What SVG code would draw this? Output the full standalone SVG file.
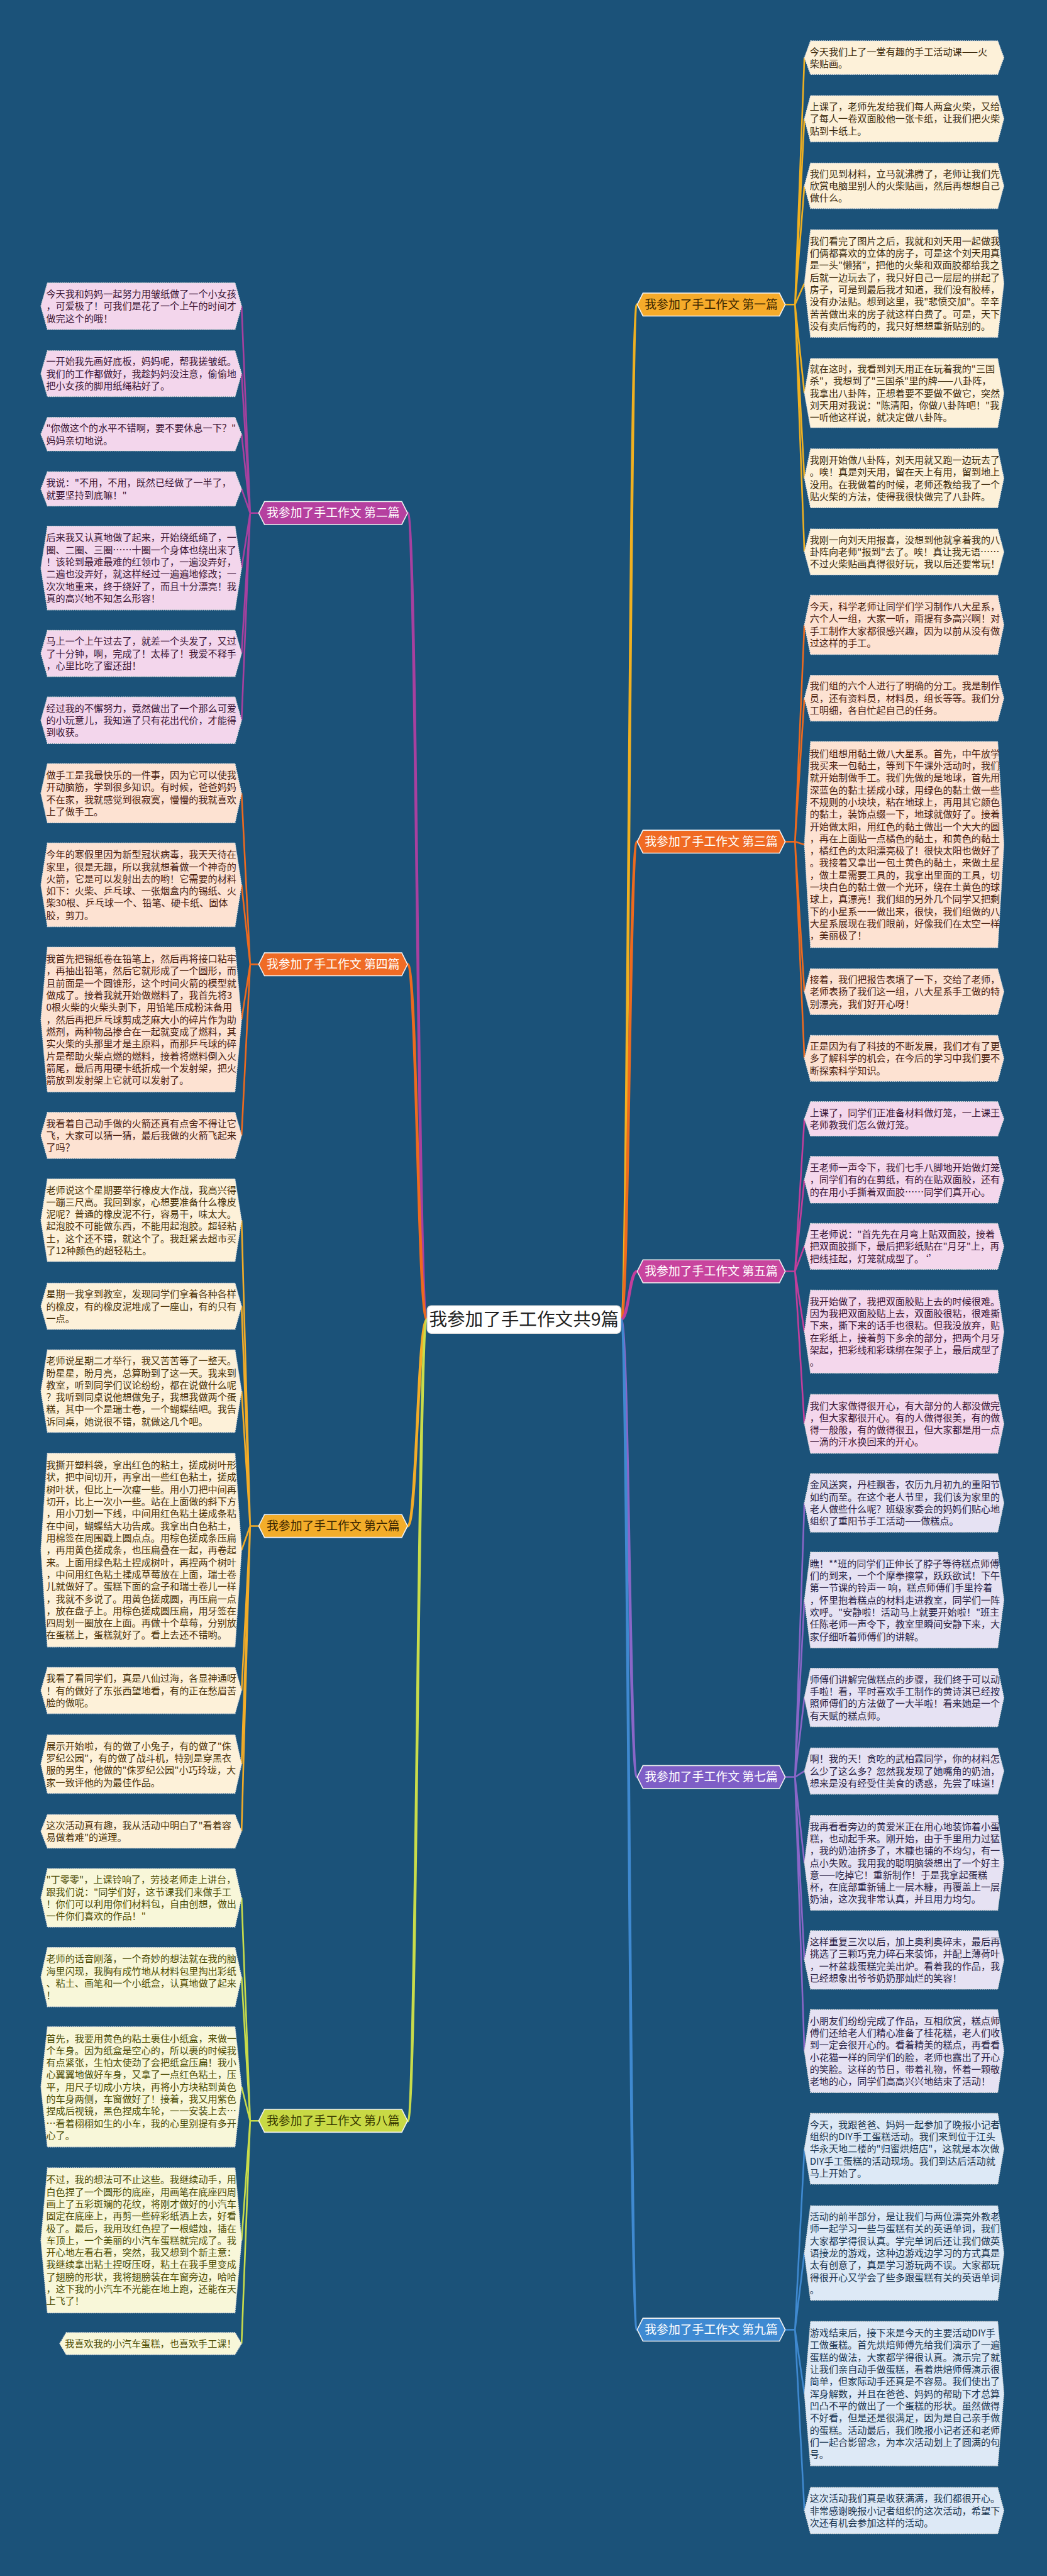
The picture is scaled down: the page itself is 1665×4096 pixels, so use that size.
<svg xmlns="http://www.w3.org/2000/svg" width="1665" height="4096" viewBox="0 0 1665 4096">
<style>
text{font-family:"Noto Sans CJK SC","Noto Sans",sans-serif}
.t{font-size:23.3px}
.leaf{stroke:#e0e0e0;stroke-width:2;stroke-dasharray:3 2}
.bn{stroke:#f2f2f2;stroke-width:2.5}
.bt{font-size:29px;text-anchor:middle}
.c{fill:none;stroke-width:4}
.cc{fill:none;stroke-width:7}
.b1 .leaf{fill:#fdf1d9}.b1 .t{fill:#3c2a0c}
.b2 .leaf{fill:#f3d6ec}.b2 .t{fill:#3a1534}
.b3 .leaf{fill:#fde2d2}.b3 .t{fill:#4a2010}
.b4 .leaf{fill:#fde2d2}.b4 .t{fill:#4a2010}
.b5 .leaf{fill:#f4d7ec}.b5 .t{fill:#3a1534}
.b6 .leaf{fill:#fdf1d9}.b6 .t{fill:#4a3208}
.b7 .leaf{fill:#e6e2f3}.b7 .t{fill:#2a2245}
.b8 .leaf{fill:#f8f7d9}.b8 .t{fill:#4d4d05}
.b9 .leaf{fill:#dde9f6}.b9 .t{fill:#1a3550}
</style>
<rect width="1665" height="4096" fill="#1b5279"/>
<g transform="scale(0.65)">
<g id="connectors">
<g stroke="#f0b020" class="c"><path class="c" d="M1921,745H1945M1945,745L1968,141M1945,745L1968,290.5M1945,745L1968,454.5M1945,745L1968,693.5M1945,745L1968,961.5M1945,745L1968,1170M1945,745L1968,1350"/></g>
<g stroke="#ee6a1e"><path class="c" d="M1921,2059H1945M1945,2059L1968,1528.5M1945,2059L1968,1708M1945,2059L1968,2066M1945,2059L1968,2426M1945,2059L1968,2589"/></g>
<g stroke="#c33e9c"><path class="c" d="M1921,3110H1945M1945,3110L1968,2737M1945,3110L1968,2886M1945,3110L1968,3049M1945,3110L1968,3257.5M1945,3110L1968,3483"/></g>
<g stroke="#8a66c8"><path class="c" d="M1921,4347H1945M1945,4347L1968,3676.5M1945,4347L1968,3914M1945,4347L1968,4152.5M1945,4347L1968,4332.5M1945,4347L1968,4557M1945,4347L1968,4794.5M1945,4347L1968,5017.5"/></g>
<g stroke="#3f89d0"><path class="c" d="M1921,5699H1945M1945,5699L1968,5256.5M1945,5699L1968,5511.5M1945,5699L1968,5855.5M1945,5699L1968,6141.5"/></g>
<g stroke="#a8409f"><path class="c" d="M633,1255H612M612,1255L591,749M612,1255L591,914M612,1255L591,1062M612,1255L591,1196M612,1255L591,1389.5M612,1255L591,1598.5M612,1255L591,1762"/></g>
<g stroke="#ee6a1e"><path class="c" d="M633,2359H612M612,2359L591,1940.5M612,2359L591,2164.5M612,2359L591,2494M612,2359L591,2777.5"/></g>
<g stroke="#f3ac27"><path class="c" d="M633,3733H612M612,3733L591,2985M612,3733L591,3195.5M612,3733L591,3403M612,3733L591,3792M612,3733L591,4135.5M612,3733L591,4315.5M612,3733L591,4480"/></g>
<g stroke="#c9dc4a"><path class="c" d="M633,5188H612M612,5188L591,4642.5M612,5188L591,4836.5M612,5188L591,5105M612,5188L591,5480.5M612,5188L591,5733"/></g>
<path class="cc" stroke="#f0b020" d="M1519,3228C1539,3228 1539,745 1559,745"/>
<path class="cc" stroke="#ee6a1e" d="M1519,3228C1539,3228 1539,2059 1559,2059"/>
<path class="cc" stroke="#c33e9c" d="M1519,3228C1539,3228 1539,3110 1559,3110"/>
<path class="cc" stroke="#8a66c8" d="M1519,3228C1539,3228 1539,4347 1559,4347"/>
<path class="cc" stroke="#3f89d0" d="M1519,3228C1539,3228 1539,5699 1559,5699"/>
<path class="cc" stroke="#a8409f" d="M1045,3228C1021,3228 1021,1255 997,1255"/>
<path class="cc" stroke="#ee6a1e" d="M1045,3228C1021,3228 1021,2359 997,2359"/>
<path class="cc" stroke="#f3ac27" d="M1045,3228C1021,3228 1021,3733 997,3733"/>
<path class="cc" stroke="#c9dc4a" d="M1045,3228C1021,3228 1021,5188 997,5188"/>
</g>

<g id="center"><rect x="1045" y="3194" width="474" height="68" rx="10" fill="#ffffff" stroke="#d9d9d9" stroke-width="2"/><text x="1282" y="3243" font-size="44" text-anchor="middle" fill="#222">我参加了手工作文共9篇</text></g>

<g id="B1"><path class="bn" fill="#f6ab2a" d="M1573,717H1907L1921,745L1907,773H1573L1559,745Z"/><text class="bt" x="1740" y="755" fill="#3b2500">我参加了手工作文 第一篇</text></g>
<g id="B3"><path class="bn" fill="#f06a23" d="M1573,2031H1907L1921,2059L1907,2087H1573L1559,2059Z"/><text class="bt" x="1740" y="2069" fill="#ffffff">我参加了手工作文 第三篇</text></g>
<g id="B5"><path class="bn" fill="#c8449e" d="M1573,3082H1907L1921,3110L1907,3138H1573L1559,3110Z"/><text class="bt" x="1740" y="3120" fill="#ffffff">我参加了手工作文 第五篇</text></g>
<g id="B7"><path class="bn" fill="#7e5ec6" d="M1573,4319H1907L1921,4347L1907,4375H1573L1559,4347Z"/><text class="bt" x="1740" y="4357" fill="#ffffff">我参加了手工作文 第七篇</text></g>
<g id="B9"><path class="bn" fill="#3f8ad2" d="M1573,5671H1907L1921,5699L1907,5727H1573L1559,5699Z"/><text class="bt" x="1740" y="5709" fill="#ffffff">我参加了手工作文 第九篇</text></g>
<g id="B2"><path class="bn" fill="#b5409f" d="M647,1227H983L997,1255L983,1283H647L633,1255Z"/><text class="bt" x="815" y="1265" fill="#ffffff">我参加了手工作文 第二篇</text></g>
<g id="B4"><path class="bn" fill="#ef6b25" d="M647,2331H983L997,2359L983,2387H647L633,2359Z"/><text class="bt" x="815" y="2369" fill="#ffffff">我参加了手工作文 第四篇</text></g>
<g id="B6"><path class="bn" fill="#f3ad2a" d="M647,3705H983L997,3733L983,3761H647L633,3733Z"/><text class="bt" x="815" y="3743" fill="#3b2500">我参加了手工作文 第六篇</text></g>
<g id="B8"><path class="bn" fill="#c8d945" d="M647,5160H983L997,5188L983,5216H647L633,5188Z"/><text class="bt" x="815" y="5198" fill="#3a3a00">我参加了手工作文 第八篇</text></g>

<g class="b2">
<g id="L1"><path class="leaf" d="M116,692H575L591,749L575,806H116L100,749Z"/><text class="t"><tspan x="113" y="727.8">今天我和妈妈一起努力用皱纸做了一个小女孩</tspan><tspan x="113" y="757.5">，可爱极了！可我们是花了一个上午的时间才</tspan><tspan x="113" y="787.2">做完这个的哦！</tspan></text></g>
<g id="L2"><path class="leaf" d="M116,858H575L591,914L575,970H116L100,914Z"/><text class="t"><tspan x="113" y="892.8">一开始我先画好底板，妈妈呢，帮我搓皱纸。</tspan><tspan x="113" y="922.5">我们的工作都做好，我趁妈妈没注意，偷偷地</tspan><tspan x="113" y="952.2">把小女孩的脚用纸绳粘好了。</tspan></text></g>
<g id="L3"><path class="leaf" d="M116,1021H575L591,1062L575,1103H116L100,1062Z"/><text class="t"><tspan x="113" y="1055.7">"你做这个的水平不错啊，要不要休息一下？"</tspan><tspan x="113" y="1085.4">妈妈亲切地说。</tspan></text></g>
<g id="L4"><path class="leaf" d="M116,1154H575L591,1196L575,1238H116L100,1196Z"/><text class="t"><tspan x="113" y="1189.7">我说："不用，不用，既然已经做了一半了，</tspan><tspan x="113" y="1219.4">就要坚持到底嘛！"</tspan></text></g>
<g id="L5"><path class="leaf" d="M116,1287H575L591,1389.5L575,1492H116L100,1389.5Z"/><text class="t"><tspan x="113" y="1323.8">后来我又认真地做了起来，开始绕纸绳了，一</tspan><tspan x="113" y="1353.5">圈、二圈、三圈……十圈一个身体也绕出来了</tspan><tspan x="113" y="1383.2">！该轮到最难最难的红领巾了，一遍没弄好，</tspan><tspan x="113" y="1412.9">二遍也没弄好，就这样经过一遍遍地修改；一</tspan><tspan x="113" y="1442.6">次次地重来，终于绕好了，而且十分漂亮！我</tspan><tspan x="113" y="1472.3">真的高兴地不知怎么形容！</tspan></text></g>
<g id="L6"><path class="leaf" d="M116,1542H575L591,1598.5L575,1655H116L100,1598.5Z"/><text class="t"><tspan x="113" y="1577.3">马上一个上午过去了，就差一个头发了，又过</tspan><tspan x="113" y="1607">了十分钟，啊，完成了！太棒了！我爱不释手</tspan><tspan x="113" y="1636.7">，心里比吃了蜜还甜！</tspan></text></g>
<g id="L7"><path class="leaf" d="M116,1705H575L591,1762L575,1819H116L100,1762Z"/><text class="t"><tspan x="113" y="1740.8">经过我的不懈努力，竟然做出了一个那么可爱</tspan><tspan x="113" y="1770.5">的小玩意儿，我知道了只有花出代价，才能得</tspan><tspan x="113" y="1800.2">到收获。</tspan></text></g>
</g>

<g class="b4">
<g id="L8"><path class="leaf" d="M116,1868H575L591,1940.5L575,2013H116L100,1940.5Z"/><text class="t"><tspan x="113" y="1904.5">做手工是我最快乐的一件事，因为它可以使我</tspan><tspan x="113" y="1934.2">开动脑筋，学到很多知识。有时候，爸爸妈妈</tspan><tspan x="113" y="1963.9">不在家，我就感觉到很寂寞，慢慢的我就喜欢</tspan><tspan x="113" y="1993.6">上了做手工。</tspan></text></g>
<g id="L9"><path class="leaf" d="M116,2062H575L591,2164.5L575,2267H116L100,2164.5Z"/><text class="t"><tspan x="113" y="2098.8">今年的寒假里因为新型冠状病毒，我天天待在</tspan><tspan x="113" y="2128.5">家里，很是无趣，所以我就想着做一个神奇的</tspan><tspan x="113" y="2158.2">火箭，它是可以发射出去的哟！它需要的材料</tspan><tspan x="113" y="2187.9">如下：火柴、乒乓球、一张烟盒内的锡纸、火</tspan><tspan x="113" y="2217.6">柴30根、乒乓球一个、铅笔、硬卡纸、固体</tspan><tspan x="113" y="2247.3">胶，剪刀。</tspan></text></g>
<g id="L10"><path class="leaf" d="M116,2317H575L591,2494L575,2671H116L100,2494Z"/><text class="t"><tspan x="113" y="2354">我首先把锡纸卷在铅笔上，然后再将接口粘牢</tspan><tspan x="113" y="2383.7">，再抽出铅笔，然后它就形成了一个圆形，而</tspan><tspan x="113" y="2413.4">且前面是一个圆锥形，这个时间火箭的模型就</tspan><tspan x="113" y="2443.1">做成了。接着我就开始做燃料了，我首先将3</tspan><tspan x="113" y="2472.8">0根火柴的火柴头剥下，用铅笔压成粉沫备用</tspan><tspan x="113" y="2502.5">，然后再把乒乓球剪成芝麻大小的碎片作为助</tspan><tspan x="113" y="2532.2">燃剂，两种物品掺合在一起就变成了燃料，其</tspan><tspan x="113" y="2561.9">实火柴的头那里才是主原料，而那乒乓球的碎</tspan><tspan x="113" y="2591.6">片是帮助火柴点燃的燃料，接着将燃料倒入火</tspan><tspan x="113" y="2621.3">箭尾，最后再用硬卡纸折成一个发射架，把火</tspan><tspan x="113" y="2651">箭放到发射架上它就可以发射了。</tspan></text></g>
<g id="L11"><path class="leaf" d="M116,2721H575L591,2777.5L575,2834H116L100,2777.5Z"/><text class="t"><tspan x="113" y="2756.3">我看着自己动手做的火箭还真有点舍不得让它</tspan><tspan x="113" y="2786">飞，大家可以猜一猜，最后我做的火箭飞起来</tspan><tspan x="113" y="2815.7">了吗？</tspan></text></g>
</g>

<g class="b6">
<g id="L12"><path class="leaf" d="M116,2884H575L591,2985L575,3086H116L100,2985Z"/><text class="t"><tspan x="113" y="2919.3">老师说这个星期要举行橡皮大作战，我高兴得</tspan><tspan x="113" y="2949">一蹦三尺高。我回到家，心想要准备什么橡皮</tspan><tspan x="113" y="2978.7">泥呢？普通的橡皮泥不行，容易干，味太大。</tspan><tspan x="113" y="3008.4">起泡胶不可能做东西，不能用起泡胶。超轻粘</tspan><tspan x="113" y="3038.1">土，这个还不错，就这个了。我赶紧去超市买</tspan><tspan x="113" y="3067.8">了12种颜色的超轻粘土。</tspan></text></g>
<g id="L13"><path class="leaf" d="M116,3139H575L591,3195.5L575,3252H116L100,3195.5Z"/><text class="t"><tspan x="113" y="3174.3">星期一我拿到教室，发现同学们拿着各种各样</tspan><tspan x="113" y="3204">的橡皮，有的橡皮泥堆成了一座山，有的只有</tspan><tspan x="113" y="3233.7">一点。</tspan></text></g>
<g id="L14"><path class="leaf" d="M116,3302H575L591,3403L575,3504H116L100,3403Z"/><text class="t"><tspan x="113" y="3337.3">老师说星期二才举行，我又苦苦等了一整天。</tspan><tspan x="113" y="3367">盼星星，盼月亮，总算盼到了这一天。我来到</tspan><tspan x="113" y="3396.7">教室，听到同学们议论纷纷，都在说做什么呢</tspan><tspan x="113" y="3426.4">？我听到同桌说他想做兔子，我想我做两个蛋</tspan><tspan x="113" y="3456.1">糕，其中一个是瑞士卷，一个蝴蝶结吧。我告</tspan><tspan x="113" y="3485.8">诉同桌，她说很不错，就做这几个吧。</tspan></text></g>
<g id="L15"><path class="leaf" d="M116,3555H575L591,3792L575,4029H116L100,3792Z"/><text class="t"><tspan x="113" y="3592.6">我撕开塑料袋，拿出红色的粘土，搓成树叶形</tspan><tspan x="113" y="3622.3">状，把中间切开，再拿出一些红色粘土，搓成</tspan><tspan x="113" y="3652">树叶状，但比上一次瘦一些。用小刀把中间再</tspan><tspan x="113" y="3681.7">切开，比上一次小一些。站在上面做的斜下方</tspan><tspan x="113" y="3711.4">，用小刀划一下线，中间用红色粘土搓成条粘</tspan><tspan x="113" y="3741.1">在中间，蝴蝶结大功告成。我拿出白色粘土，</tspan><tspan x="113" y="3770.8">用棉签在周围戳上圆点点。用棕色搓成条压扁</tspan><tspan x="113" y="3800.5">，再用黄色搓成条，也压扁叠在一起，再卷起</tspan><tspan x="113" y="3830.2">来。上面用绿色粘土捏成树叶，再捏两个树叶</tspan><tspan x="113" y="3859.9">，中间用红色粘土揉成草莓放在上面，瑞士卷</tspan><tspan x="113" y="3889.6">儿就做好了。蛋糕下面的盒子和瑞士卷儿一样</tspan><tspan x="113" y="3919.3">，我就不多说了。用黄色搓成圆，再压扁一点</tspan><tspan x="113" y="3949">，放在盘子上。用棕色搓成圆压扁，用牙签在</tspan><tspan x="113" y="3978.7">四周划一圈放在上面。再做十个草莓，分别放</tspan><tspan x="113" y="4008.4">在蛋糕上，蛋糕就好了。看上去还不错哟。</tspan></text></g>
<g id="L16"><path class="leaf" d="M116,4079H575L591,4135.5L575,4192H116L100,4135.5Z"/><text class="t"><tspan x="113" y="4114.3">我看了看同学们，真是八仙过海，各显神通呀</tspan><tspan x="113" y="4144">！有的做好了东张西望地看，有的正在愁眉苦</tspan><tspan x="113" y="4173.7">脸的做呢。</tspan></text></g>
<g id="L17"><path class="leaf" d="M116,4244H575L591,4315.5L575,4387H116L100,4315.5Z"/><text class="t"><tspan x="113" y="4279.5">展示开始啦，有的做了小兔子，有的做了"侏</tspan><tspan x="113" y="4309.2">罗纪公园"，有的做了战斗机，特别是穿黑衣</tspan><tspan x="113" y="4338.9">服的男生，他做的"侏罗纪公园"小巧玲珑，大</tspan><tspan x="113" y="4368.6">家一致评他的为最佳作品。</tspan></text></g>
<g id="L18"><path class="leaf" d="M116,4439H575L591,4480L575,4521H116L100,4480Z"/><text class="t"><tspan x="113" y="4473.7">这次活动真有趣，我从活动中明白了"看着容</tspan><tspan x="113" y="4503.4">易做着难"的道理。</tspan></text></g>
</g>

<g class="b8">
<g id="L19"><path class="leaf" d="M116,4571H575L591,4642.5L575,4714H116L100,4642.5Z"/><text class="t"><tspan x="113" y="4606.5">"丁零零"，上课铃响了，劳技老师走上讲台，</tspan><tspan x="113" y="4636.2">跟我们说："同学们好，这节课我们来做手工</tspan><tspan x="113" y="4665.9">！你们可以利用你们材料包，自由创想，做出</tspan><tspan x="113" y="4695.6">一件你们喜欢的作品！"</tspan></text></g>
<g id="L20"><path class="leaf" d="M116,4764H575L591,4836.5L575,4909H116L100,4836.5Z"/><text class="t"><tspan x="113" y="4800.5">老师的话音刚落，一个奇妙的想法就在我的脑</tspan><tspan x="113" y="4830.2">海里闪现，我胸有成竹地从材料包里掏出彩纸</tspan><tspan x="113" y="4859.9">、粘土、画笔和一个小纸盒，认真地做了起来</tspan><tspan x="113" y="4889.6">！</tspan></text></g>
<g id="L21"><path class="leaf" d="M116,4958H575L591,5105L575,5252H116L100,5105Z"/><text class="t"><tspan x="113" y="4994.7">首先，我要用黄色的粘土裹住小纸盒，来做一</tspan><tspan x="113" y="5024.4">个车身。因为纸盒是空心的，所以裹的时候我</tspan><tspan x="113" y="5054.1">有点紧张，生怕太使劲了会把纸盒压扁！我小</tspan><tspan x="113" y="5083.8">心翼翼地做好车身，又拿了一点红色粘土，压</tspan><tspan x="113" y="5113.5">平，用尺子切成小方块，再将小方块粘到黄色</tspan><tspan x="113" y="5143.2">的车身两侧，车窗做好了！接着，我又用紫色</tspan><tspan x="113" y="5172.9">捏成后视镜，黑色捏成车轮，一一安装上去…</tspan><tspan x="113" y="5202.6">…看着栩栩如生的小车，我的心里别提有多开</tspan><tspan x="113" y="5232.3">心了。</tspan></text></g>
<g id="L22"><path class="leaf" d="M116,5303H575L591,5480.5L575,5658H116L100,5480.5Z"/><text class="t"><tspan x="113" y="5340.5">不过，我的想法可不止这些。我继续动手，用</tspan><tspan x="113" y="5370.2">白色捏了一个圆形的底座，用画笔在底座四周</tspan><tspan x="113" y="5399.9">画上了五彩斑斓的花纹，将刚才做好的小汽车</tspan><tspan x="113" y="5429.6">固定在底座上，再剪一些碎彩纸洒上去，好看</tspan><tspan x="113" y="5459.3">极了。最后，我用玫红色捏了一根蜡烛，插在</tspan><tspan x="113" y="5489">车顶上，一个美丽的小汽车蛋糕就完成了。我</tspan><tspan x="113" y="5518.7">开心地左看右看，突然，我又想到个新主意：</tspan><tspan x="113" y="5548.4">我继续拿出粘土捏呀压呀，粘土在我手里变成</tspan><tspan x="113" y="5578.1">了翅膀的形状，我将翅膀装在车窗旁边，哈哈</tspan><tspan x="113" y="5607.8">，这下我的小汽车不光能在地上跑，还能在天</tspan><tspan x="113" y="5637.5">上飞了！</tspan></text></g>
<g id="L23"><path class="leaf" d="M162,5706H575L591,5733L575,5760H162L146,5733Z"/><text class="t"><tspan x="159" y="5741.5">我喜欢我的小汽车蛋糕，也喜欢手工课！</tspan></text></g>
</g>

<g class="b1">
<g id="R1"><path class="leaf" d="M1983,100H2441L2456,141L2441,182H1983L1968,141Z"/><text class="t"><tspan x="1981" y="134.7">今天我们上了一堂有趣的手工活动课——火</tspan><tspan x="1981" y="164.4">柴贴画。</tspan></text></g>
<g id="R2"><path class="leaf" d="M1983,234H2441L2456,290.5L2441,347H1983L1968,290.5Z"/><text class="t"><tspan x="1981" y="269.3">上课了，老师先发给我们每人两盒火柴，又给</tspan><tspan x="1981" y="299">了每人一卷双面胶他一张卡纸，让我们把火柴</tspan><tspan x="1981" y="328.7">贴到卡纸上。</tspan></text></g>
<g id="R3"><path class="leaf" d="M1983,399H2441L2456,454.5L2441,510H1983L1968,454.5Z"/><text class="t"><tspan x="1981" y="433.3">我们见到材料，立马就沸腾了，老师让我们先</tspan><tspan x="1981" y="463">欣赏电脑里别人的火柴贴画，然后再想想自己</tspan><tspan x="1981" y="492.7">做什么。</tspan></text></g>
<g id="R4"><path class="leaf" d="M1983,562H2441L2456,693.5L2441,825H1983L1968,693.5Z"/><text class="t"><tspan x="1981" y="598.1">我们看完了图片之后，我就和刘天用一起做我</tspan><tspan x="1981" y="627.8">们俩都喜欢的立体的房子，可是这个刘天用真</tspan><tspan x="1981" y="657.5">是一头"懒猪"，把他的火柴和双面胶都给我之</tspan><tspan x="1981" y="687.2">后就一边玩去了，我只好自己一层层的拼起了</tspan><tspan x="1981" y="716.9">房子，可是到最后我才知道，我们没有胶棒，</tspan><tspan x="1981" y="746.6">没有办法贴。想到这里，我"悲愤交加"。辛辛</tspan><tspan x="1981" y="776.3">苦苦做出来的房子就这样白费了。可是，天下</tspan><tspan x="1981" y="806">没有卖后悔药的，我只好想想重新贴别的。</tspan></text></g>
<g id="R5"><path class="leaf" d="M1983,877H2441L2456,961.5L2441,1046H1983L1968,961.5Z"/><text class="t"><tspan x="1981" y="910.6">就在这时，我看到刘天用正在玩着我的"三国</tspan><tspan x="1981" y="940.3">杀"，我想到了"三国杀"里的牌——八卦阵，</tspan><tspan x="1981" y="970">我拿出八卦阵，正想着要不要做不做它，突然</tspan><tspan x="1981" y="999.7">刘天用对我说："陈清阳，你做八卦阵吧！"我</tspan><tspan x="1981" y="1029.4">一听他这样说，就决定做八卦阵。</tspan></text></g>
<g id="R6"><path class="leaf" d="M1983,1098H2441L2456,1170L2441,1242H1983L1968,1170Z"/><text class="t"><tspan x="1981" y="1134">我刚开始做八卦阵，刘天用就又跑一边玩去了</tspan><tspan x="1981" y="1163.7">。唉！真是刘天用，留在天上有用，留到地上</tspan><tspan x="1981" y="1193.4">没用。在我做着的时候，老师还教给我了一个</tspan><tspan x="1981" y="1223.1">贴火柴的方法，使得我很快做完了八卦阵。</tspan></text></g>
<g id="R7"><path class="leaf" d="M1983,1294H2441L2456,1350L2441,1406H1983L1968,1350Z"/><text class="t"><tspan x="1981" y="1328.8">我刚一向刘天用报喜，没想到他就拿着我的八</tspan><tspan x="1981" y="1358.5">卦阵向老师"报到"去了。唉！真让我无语……</tspan><tspan x="1981" y="1388.2">不过火柴贴画真得很好玩，我以后还要常玩！</tspan></text></g>
</g>

<g class="b3">
<g id="R8"><path class="leaf" d="M1983,1456H2441L2456,1528.5L2441,1601H1983L1968,1528.5Z"/><text class="t"><tspan x="1981" y="1492.5">今天，科学老师让同学们学习制作八大星系，</tspan><tspan x="1981" y="1522.2">六个人一组，大家一听，甭提有多高兴啊！对</tspan><tspan x="1981" y="1551.9">手工制作大家都很感兴趣，因为以前从没有做</tspan><tspan x="1981" y="1581.6">过这样的手工。</tspan></text></g>
<g id="R9"><path class="leaf" d="M1983,1652H2441L2456,1708L2441,1764H1983L1968,1708Z"/><text class="t"><tspan x="1981" y="1686.8">我们组的六个人进行了明确的分工。我是制作</tspan><tspan x="1981" y="1716.5">员，还有资料员，材料员，组长等等。我们分</tspan><tspan x="1981" y="1746.2">工明细，各自忙起自己的任务。</tspan></text></g>
<g id="R10"><path class="leaf" d="M1983,1814H2441L2456,2066L2441,2318H1983L1968,2066Z"/><text class="t"><tspan x="1981" y="1851.8">我们组想用黏土做八大星系。首先，中午放学</tspan><tspan x="1981" y="1881.5">我买来一包黏土，等到下午课外活动时，我们</tspan><tspan x="1981" y="1911.2">就开始制做手工。我们先做的是地球，首先用</tspan><tspan x="1981" y="1940.9">深蓝色的黏土搓成小球，用绿色的黏土做一些</tspan><tspan x="1981" y="1970.6">不规则的小块块，粘在地球上，再用其它颜色</tspan><tspan x="1981" y="2000.3">的黏土，装饰点缀一下，地球就做好了。接着</tspan><tspan x="1981" y="2030">开始做太阳，用红色的黏土做出一个大大的圆</tspan><tspan x="1981" y="2059.7">，再在上面贴一点橘色的黏土，和黄色的黏土</tspan><tspan x="1981" y="2089.4">，橘红色的太阳漂亮极了！很快太阳也做好了</tspan><tspan x="1981" y="2119.1">。我接着又拿出一包土黄色的黏土，来做土星</tspan><tspan x="1981" y="2148.8">，做土星需要工具的，我拿出里面的工具，切</tspan><tspan x="1981" y="2178.5">一块白色的黏土做一个光环，绕在土黄色的球</tspan><tspan x="1981" y="2208.2">球上，真漂亮！我们组的另外几个同学又把剩</tspan><tspan x="1981" y="2237.9">下的小星系一一做出来，很快，我们组做的八</tspan><tspan x="1981" y="2267.6">大星系展现在我们眼前，好像我们在太空一样</tspan><tspan x="1981" y="2297.3">，美丽极了！</tspan></text></g>
<g id="R11"><path class="leaf" d="M1983,2370H2441L2456,2426L2441,2482H1983L1968,2426Z"/><text class="t"><tspan x="1981" y="2404.8">接着，我们把报告表填了一下，交给了老师，</tspan><tspan x="1981" y="2434.5">老师表扬了我们这一组，八大星系手工做的特</tspan><tspan x="1981" y="2464.2">别漂亮，我们好开心呀！</tspan></text></g>
<g id="R12"><path class="leaf" d="M1983,2533H2441L2456,2589L2441,2645H1983L1968,2589Z"/><text class="t"><tspan x="1981" y="2567.8">正是因为有了科技的不断发展，我们才有了更</tspan><tspan x="1981" y="2597.5">多了解科学的机会，在今后的学习中我们要不</tspan><tspan x="1981" y="2627.2">断探索科学知识。</tspan></text></g>
</g>

<g class="b5">
<g id="R13"><path class="leaf" d="M1983,2695H2441L2456,2737L2441,2779H1983L1968,2737Z"/><text class="t"><tspan x="1981" y="2730.7">上课了，同学们正准备材料做灯笼，一上课王</tspan><tspan x="1981" y="2760.4">老师教我们怎么做灯笼。</tspan></text></g>
<g id="R14"><path class="leaf" d="M1983,2829H2441L2456,2886L2441,2943H1983L1968,2886Z"/><text class="t"><tspan x="1981" y="2864.8">王老师一声令下，我们七手八脚地开始做灯笼</tspan><tspan x="1981" y="2894.5">，同学们有的在剪纸，有的在贴双面胶，还有</tspan><tspan x="1981" y="2924.2">的在用小手撕着双面胶……同学们真开心。</tspan></text></g>
<g id="R15"><path class="leaf" d="M1983,2993H2441L2456,3049L2441,3105H1983L1968,3049Z"/><text class="t"><tspan x="1981" y="3027.8">王老师说："首先先在月弯上贴双面胶，接着</tspan><tspan x="1981" y="3057.5">把双面胶撕下，最后把彩纸贴在"月牙"上，再</tspan><tspan x="1981" y="3087.2">把线挂起，灯笼就成型了。‘’</tspan></text></g>
<g id="R16"><path class="leaf" d="M1983,3156H2441L2456,3257.5L2441,3359H1983L1968,3257.5Z"/><text class="t"><tspan x="1981" y="3191.8">我开始做了，我把双面胶贴上去的时候很难。</tspan><tspan x="1981" y="3221.5">因为我把双面胶贴上去，双面胶很粘，很难撕</tspan><tspan x="1981" y="3251.2">下来，撕下来的话手也很粘。但我没放弃，贴</tspan><tspan x="1981" y="3280.9">在彩纸上，接着剪下多余的部分，把两个月牙</tspan><tspan x="1981" y="3310.6">架起，把彩线和彩珠绑在架子上，最后成型了</tspan><tspan x="1981" y="3340.3">。</tspan></text></g>
<g id="R17"><path class="leaf" d="M1983,3411H2441L2456,3483L2441,3555H1983L1968,3483Z"/><text class="t"><tspan x="1981" y="3447">我们大家做得很开心，有大部分的人都没做完</tspan><tspan x="1981" y="3476.7">，但大家都很开心。有的人做得很美，有的做</tspan><tspan x="1981" y="3506.4">得一般般，有的做得很丑，但大家都是用一点</tspan><tspan x="1981" y="3536.1">一滴的汗水换回来的开心。</tspan></text></g>
</g>

<g class="b7">
<g id="R18"><path class="leaf" d="M1983,3605H2441L2456,3676.5L2441,3748H1983L1968,3676.5Z"/><text class="t"><tspan x="1981" y="3640.5">金风送爽，丹桂飘香，农历九月初九的重阳节</tspan><tspan x="1981" y="3670.2">如约而至。在这个老人节里，我们该为家里的</tspan><tspan x="1981" y="3699.9">老人做些什么呢？班级家委会的妈妈们贴心地</tspan><tspan x="1981" y="3729.6">组织了重阳节手工活动——做糕点。</tspan></text></g>
<g id="R19"><path class="leaf" d="M1983,3797H2441L2456,3914L2441,4031H1983L1968,3914Z"/><text class="t"><tspan x="1981" y="3833.4">瞧！**班的同学们正伸长了脖子等待糕点师傅</tspan><tspan x="1981" y="3863.1">们的到来，一个个摩拳擦掌，跃跃欲试！下午</tspan><tspan x="1981" y="3892.8">第一节课的铃声一 响，糕点师傅们手里拎着</tspan><tspan x="1981" y="3922.5">，怀里抱着糕点的材料走进教室，同学们一阵</tspan><tspan x="1981" y="3952.2">欢呼。"安静啦！活动马上就要开始啦！"班主</tspan><tspan x="1981" y="3981.9">任陈老师一声令下，教室里瞬间安静下来，大</tspan><tspan x="1981" y="4011.6">家仔细听着师傅们的讲解。</tspan></text></g>
<g id="R20"><path class="leaf" d="M1983,4081H2441L2456,4152.5L2441,4224H1983L1968,4152.5Z"/><text class="t"><tspan x="1981" y="4116.5">师傅们讲解完做糕点的步骤，我们终于可以动</tspan><tspan x="1981" y="4146.2">手啦！看，平时喜欢手工制作的黄诗淇已经按</tspan><tspan x="1981" y="4175.9">照师傅们的方法做了一大半啦！看来她是一个</tspan><tspan x="1981" y="4205.6">有天赋的糕点师。</tspan></text></g>
<g id="R21"><path class="leaf" d="M1983,4276H2441L2456,4332.5L2441,4389H1983L1968,4332.5Z"/><text class="t"><tspan x="1981" y="4311.3">啊！我的天！贪吃的武柏霖同学，你的材料怎</tspan><tspan x="1981" y="4341">么少了这么多？忽然我发现了她嘴角的奶油，</tspan><tspan x="1981" y="4370.7">想来是没有经受住美食的诱惑，先尝了味道！</tspan></text></g>
<g id="R22"><path class="leaf" d="M1983,4441H2441L2456,4557L2441,4673H1983L1968,4557Z"/><text class="t"><tspan x="1981" y="4476.4">我再看看旁边的黄爱米正在用心地装饰着小蛋</tspan><tspan x="1981" y="4506.1">糕，也动起手来。刚开始，由于手里用力过猛</tspan><tspan x="1981" y="4535.8">，我的奶油挤多了，木糠也铺的不均匀，有一</tspan><tspan x="1981" y="4565.5">点小失败。我用我的聪明脑袋想出了一个好主</tspan><tspan x="1981" y="4595.2">意——吃掉它！重新制作！于是我拿起蛋糕</tspan><tspan x="1981" y="4624.9">杯，在底部重新铺上一层木糠，再覆盖上一层</tspan><tspan x="1981" y="4654.6">奶油，这次我非常认真，并且用力均匀。</tspan></text></g>
<g id="R23"><path class="leaf" d="M1983,4723H2441L2456,4794.5L2441,4866H1983L1968,4794.5Z"/><text class="t"><tspan x="1981" y="4758.5">这样重复三次以后，加上奥利奥碎末，最后再</tspan><tspan x="1981" y="4788.2">挑选了三颗巧克力碎石来装饰，并配上薄荷叶</tspan><tspan x="1981" y="4817.9">，一杯盆栽蛋糕完美出炉。看着我的作品，我</tspan><tspan x="1981" y="4847.6">已经想象出爷爷奶奶那灿烂的笑容！</tspan></text></g>
<g id="R24"><path class="leaf" d="M1983,4916H2441L2456,5017.5L2441,5119H1983L1968,5017.5Z"/><text class="t"><tspan x="1981" y="4951.8">小朋友们纷纷完成了作品，互相欣赏，糕点师</tspan><tspan x="1981" y="4981.5">傅们还给老人们精心准备了桂花糕，老人们收</tspan><tspan x="1981" y="5011.2">到一定会很开心的。看着精美的糕点，再看看</tspan><tspan x="1981" y="5040.9">小花猫一样的同学们的脸，老师也露出了开心</tspan><tspan x="1981" y="5070.6">的笑脸。这样的节日，带着礼物，怀着一颗敬</tspan><tspan x="1981" y="5100.3">老地的心，同学们高高兴兴地结束了活动！</tspan></text></g>
</g>

<g class="b9">
<g id="R25"><path class="leaf" d="M1983,5170H2441L2456,5256.5L2441,5343H1983L1968,5256.5Z"/><text class="t"><tspan x="1981" y="5205.6">今天，我跟爸爸、妈妈一起参加了晚报小记者</tspan><tspan x="1981" y="5235.3">组织的DIY手工蛋糕活动。我们来到位于江头</tspan><tspan x="1981" y="5265">华永天地二楼的"归蜜烘焙店"，这就是本次做</tspan><tspan x="1981" y="5294.7">DIY手工蛋糕的活动现场。我们到达后活动就</tspan><tspan x="1981" y="5324.4">马上开始了。</tspan></text></g>
<g id="R26"><path class="leaf" d="M1983,5396H2441L2456,5511.5L2441,5627H1983L1968,5511.5Z"/><text class="t"><tspan x="1981" y="5430.9">活动的前半部分，是让我们与两位漂亮外教老</tspan><tspan x="1981" y="5460.6">师一起学习一些与蛋糕有关的英语单词，我们</tspan><tspan x="1981" y="5490.3">大家都学得很认真。学完单词后还让我们做英</tspan><tspan x="1981" y="5520">语接龙的游戏，这种边游戏边学习的方式真是</tspan><tspan x="1981" y="5549.7">太有创意了，真是学习游玩两不误。大家都玩</tspan><tspan x="1981" y="5579.4">得很开心又学会了些多跟蛋糕有关的英语单词</tspan><tspan x="1981" y="5609.1">。</tspan></text></g>
<g id="R27"><path class="leaf" d="M1983,5679H2441L2456,5855.5L2441,6032H1983L1968,5855.5Z"/><text class="t"><tspan x="1981" y="5715.5">游戏结束后，接下来是今天的主要活动DIY手</tspan><tspan x="1981" y="5745.2">工做蛋糕。首先烘焙师傅先给我们演示了一遍</tspan><tspan x="1981" y="5774.9">蛋糕的做法，大家都学得很认真。演示完了就</tspan><tspan x="1981" y="5804.6">让我们亲自动手做蛋糕，看着烘焙师傅演示很</tspan><tspan x="1981" y="5834.3">简单，但家际动手还真是不容易。我们使出了</tspan><tspan x="1981" y="5864">浑身解数，并且在爸爸、妈妈的帮助下才总算</tspan><tspan x="1981" y="5893.7">凹凸不平的做出了一个蛋糕的形状。虽然做得</tspan><tspan x="1981" y="5923.4">不好看，但是还是很满足，因为是自己亲手做</tspan><tspan x="1981" y="5953.1">的蛋糕。活动最后，我们晚报小记者还和老师</tspan><tspan x="1981" y="5982.8">们一起合影留念，为本次活动划上了圆满的句</tspan><tspan x="1981" y="6012.5">号。</tspan></text></g>
<g id="R28"><path class="leaf" d="M1983,6085H2441L2456,6141.5L2441,6198H1983L1968,6141.5Z"/><text class="t"><tspan x="1981" y="6120.3">这次活动我们真是收获满满，我们都很开心。</tspan><tspan x="1981" y="6150">非常感谢晚报小记者组织的这次活动，希望下</tspan><tspan x="1981" y="6179.7">次还有机会参加这样的活动。</tspan></text></g>
</g>
</g>
</svg>
